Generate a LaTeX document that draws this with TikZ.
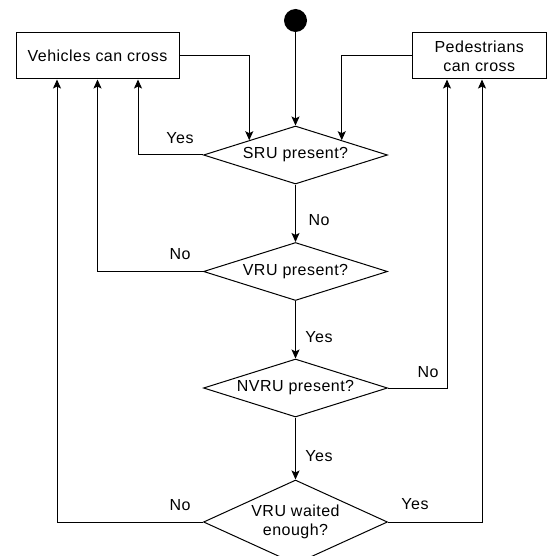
\documentclass[tikz,border=0pt]{standalone}
\usepackage{fontspec}
\setmainfont{Liberation Sans}[LetterSpace=3]
\usetikzlibrary{shapes.geometric,arrows.meta,calc}
\begin{document}
\begin{tikzpicture}[x=1pt,y=-1pt,
  every node/.style={font=\fontsize{16}{19}\selectfont},
  box/.style={draw, line width=1pt, minimum height=46pt, inner sep=0pt, align=center},
  dec/.style={draw, shape=diamond, line width=1pt, minimum width=184pt, minimum height=58pt, inner sep=0pt, aspect=3.17, align=center},
  arr/.style={line width=1pt, -{Stealth[length=9pt,width=8pt,inset=2pt]}},
  lbl/.style={inner sep=0pt}
]
\clip (0,0) rectangle (547,556);
\node[box, minimum width=163pt] (veh) at (97.5,56) {Vehicles can cross};
\node[box, minimum width=134.5pt] (ped) at (479.25,56) {Pedestrians\\can cross};
\node[circle, fill=black, minimum size=23pt, inner sep=0pt] (start) at (295.5,20.5) {};
\node[dec] (sru) at (295.5,155) {SRU present?};
\node[dec] (vru) at (295.5,271.5) {VRU present?};
\node[dec] (nvru) at (295.5,388) {NVRU present?};
\node[dec, minimum height=84pt, aspect=2.19] (wait) at (295.5,522) {VRU waited\\enough?};

\coordinate (xa) at (138,0);
\coordinate (xb) at (97.5,0);
\coordinate (xc) at (57,0);
\coordinate (xd) at (447,0);
\coordinate (xe) at (482,0);

\draw[arr] (start) -- (sru);
\draw[arr] (sru) -- (vru);
\draw[arr] (vru) -- (nvru);
\draw[arr] (nvru) -- (wait);
\draw[arr] (veh.east) -| (sru.north west);
\draw[arr] (ped.west) -| (sru.north east);
\draw[arr] (sru.west) -| (veh.south -| xa);
\draw[arr] (vru.west) -| (veh.south -| xb);
\draw[arr] (wait.west) -| (veh.south -| xc);
\draw[arr] (nvru.east) -| (ped.south -| xd);
\draw[arr] (wait.east) -| (ped.south -| xe);

\node[lbl] (l1) at (180,138) {Yes};
\node[lbl] (l2) at (180,254) {No};
\node[lbl] (l3) at (180,505) {No};
\node[lbl] (l4) at (415,504) {Yes};
\node[lbl] (l5) at (319,220) {No};
\node[lbl] (l6) at (319,337) {Yes};
\node[lbl] (l7) at (319,456) {Yes};
\node[lbl] (l8) at (428,372) {No};
\end{tikzpicture}
\end{document}
